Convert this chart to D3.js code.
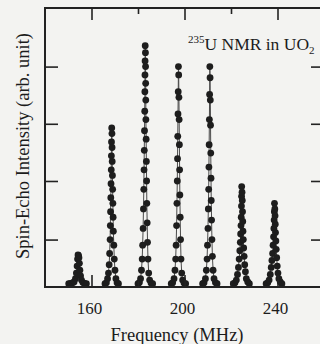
<!DOCTYPE html>
<html>
<head>
<meta charset="utf-8">
<script src="https://cdn.jsdelivr.net/npm/d3@7"></script>
<style>
  html, body { margin: 0; padding: 0; background: #f3f3f1; }
  svg { display: block; }
  text { font-family: "Liberation Serif", "DejaVu Serif", serif; fill: #1c1c1c; }
</style>
</head>
<body>
<svg id="chart" width="320" height="344"></svg>
<script>
// frequency axis (MHz)
const xDomain = [140, 260];
const xMajorTicks = [160, 200, 240];
const xMinorTicks = [180, 220];
// intensity axis (arb. unit)
const yDomain = [0, 100];
const yTicks = [17, 38, 58.5, 79];

// echo intensity vs frequency, one array per quadrupole line [MHz, intensity]
const peak1 = [[150.2,1.2],[151.0,1.3],[151.8,1.5],[152.5,1.8],[153.1,3],[153.5,5],[153.8,7.5],[154.0,10],[154.2,11.5],[154.4,11.3],[154.6,10.5],[154.8,8.5],[155.0,6],[155.3,4],[155.7,2.5],[156.3,1.6],[157.0,1.3],[157.8,1.2]];
const peak2 = [[165.8,1.2],[166.4,1.5],[166.9,3],[167.3,5],[167.6,8],[167.8,12],[168.0,17],[168.1,22],[168.2,27],[168.3,32],[168.4,37],[168.5,42],[168.55,47],[168.6,52],[168.7,57],[168.8,55],[168.85,50],[168.9,45],[169.0,40],[169.1,35],[169.2,30],[169.3,25],[169.4,20],[169.6,15],[169.8,10],[170.1,6],[170.5,3],[171.0,1.5],[171.6,1.2]];
const peak3 = [[180.0,1.2],[180.6,1.6],[181.1,3],[181.5,6],[181.8,10],[182.0,15],[182.2,21],[182.35,28],[182.5,35],[182.6,42],[182.7,49],[182.8,56],[182.9,63],[182.95,70],[183.0,76],[183.05,81],[183.1,86.5],[183.2,84],[183.25,79],[183.3,73],[183.35,67],[183.4,60],[183.5,53],[183.6,45],[183.7,38],[183.8,30],[183.95,23],[184.1,16],[184.3,10],[184.6,5],[185.0,2.5],[185.6,1.4],[186.3,1.2]];
const peak4 = [[194.3,1.2],[194.9,1.5],[195.5,3],[195.9,6],[196.2,10],[196.4,15],[196.6,22],[196.75,30],[196.9,38],[197.0,46],[197.1,54],[197.2,62],[197.3,70],[197.4,79],[197.5,76],[197.6,68],[197.7,60],[197.8,51],[197.9,42],[198.0,33],[198.15,25],[198.3,17],[198.5,10],[198.8,5],[199.2,2.5],[199.8,1.4],[200.5,1.2]];
const peak5 = [[207.8,1.2],[208.4,1.5],[209.0,3],[209.4,6],[209.7,10],[209.9,15],[210.1,21],[210.25,28],[210.4,35],[210.5,43],[210.6,51],[210.7,60],[210.8,69],[210.9,79],[211.0,75],[211.1,67],[211.2,58],[211.3,48],[211.4,39],[211.5,31],[211.65,24],[211.8,17],[212.0,11],[212.3,6],[212.7,3],[213.3,1.6],[214.0,1.2]];
const peak6 = [[221.0,1.2],[221.7,1.5],[222.3,2.5],[222.8,4.5],[223.2,7],[223.5,10],[223.8,13],[224.0,16],[224.15,19],[224.3,22],[224.4,25],[224.5,29],[224.55,32.5],[224.6,36],[224.75,34],[224.85,31],[224.95,27],[225.05,23.5],[225.15,20],[225.3,17],[225.45,14],[225.65,11],[225.9,8],[226.2,5.5],[226.6,3],[227.2,1.8],[227.9,1.2]];
const peak7 = [[235.1,1.2],[235.8,1.5],[236.4,2.5],[236.9,4.5],[237.3,7],[237.6,9.5],[237.9,12],[238.1,15],[238.3,18],[238.45,21],[238.55,24],[238.65,27],[238.7,30],[238.85,28],[238.95,25.5],[239.05,22.5],[239.15,19.5],[239.3,16.5],[239.45,13.5],[239.65,10.5],[239.9,7.5],[240.2,5],[240.6,3],[241.2,1.8],[241.9,1.2]];
const peaks = [peak1, peak2, peak3, peak4, peak5, peak6, peak7];

const frame = {left: 45, right: 324, top: 8, bottom: 287};
const svg = d3.select("#chart");

const x = d3.scaleLinear().domain(xDomain).range([frame.left, frame.right]);
const y = d3.scaleLinear().domain(yDomain).range([frame.bottom, frame.top]);

//traces first, frame on top
const line = d3.line().x(d => x(d[0])).y(d => y(d[1]));
svg.append("g")
    .selectAll("path")
    .data(peaks)
    .join("path")
        .attr("d", line)
        .attr("fill", "none")
        .attr("stroke", "#4a4a4a")
        .attr("stroke-width", 1);

svg.append("g")
    .selectAll("circle")
    .data(peaks.flat())
    .join("circle")
        .attr("cx", d => x(d[0]))
        .attr("cy", d => y(d[1]))
        .attr("r", 3.4)
        .attr("fill", "#1d1d1d");

//inward ticks on all four sides
function styleAxis(g) {
    g.select(".domain").remove();
    g.selectAll("line").attr("stroke", "#222").attr("stroke-width", 1.6);
    g.selectAll("text").remove();
}
const hAxes = [
    {ticks: xMajorTicks, len: 12},
    {ticks: xMinorTicks, len: 6}
];
for (let a of hAxes) {
    svg.append("g")
        .attr("transform", `translate(0,${frame.top})`)
        .call(d3.axisTop(x).tickValues(a.ticks).tickSize(-a.len))
        .call(styleAxis);
    svg.append("g")
        .attr("transform", `translate(0,${frame.bottom})`)
        .call(d3.axisBottom(x).tickValues(a.ticks).tickSize(-a.len))
        .call(styleAxis);
}
svg.append("g")
    .attr("transform", `translate(${frame.left},0)`)
    .call(d3.axisLeft(y).tickValues(yTicks).tickSize(-13))
    .call(styleAxis);
svg.append("g")
    .attr("transform", `translate(${frame.right},0)`)
    .call(d3.axisRight(y).tickValues(yTicks).tickSize(-13))
    .call(styleAxis);

svg.append("rect")
    .attr("x", frame.left)
    .attr("y", frame.top)
    .attr("width", frame.right - frame.left)
    .attr("height", frame.bottom - frame.top)
    .attr("fill", "none")
    .attr("stroke", "#222")
    .attr("stroke-width", 2);

//tick labels
svg.append("g")
    .selectAll("text")
    .data(xMajorTicks)
    .join("text")
        .attr("x", d => x(d) - 2)
        .attr("y", 314)
        .attr("text-anchor", "middle")
        .attr("font-size", 17)
        .text(d => d);

svg.append("text")
    .attr("x", 177)
    .attr("y", 341)
    .attr("text-anchor", "middle")
    .attr("font-size", 18.5)
    .text("Frequency (MHz)");

svg.append("text")
    .attr("transform", "translate(29,146) rotate(-90)")
    .attr("text-anchor", "middle")
    .attr("font-size", 18.5)
    .text("Spin-Echo Intensity (arb. unit)");

const title = svg.append("text")
    .attr("x", 188)
    .attr("y", 50)
    .attr("font-size", 17.5);
title.append("tspan").attr("font-size", 11).attr("dy", -7).text("235");
title.append("tspan").attr("dy", 7).text("U NMR in UO");
title.append("tspan").attr("font-size", 11).attr("dy", 4).text("2");
</script>
</body>
</html>
